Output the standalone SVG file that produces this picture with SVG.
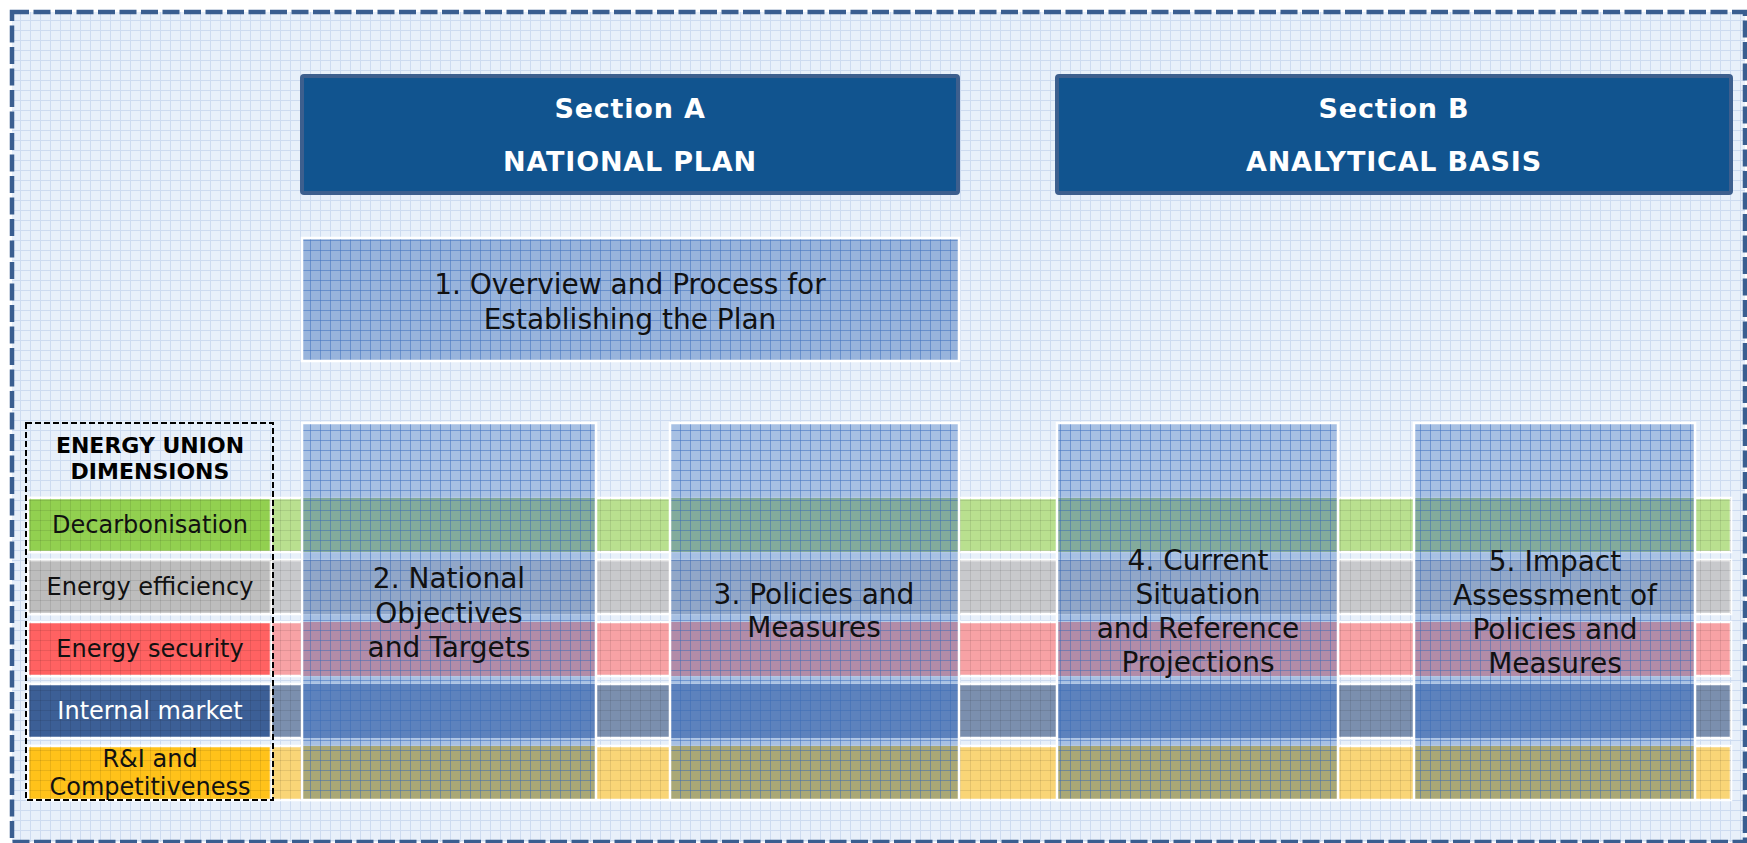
<svg xmlns="http://www.w3.org/2000/svg" width="1747" height="843" viewBox="0 0 1747 843">
<defs>
<pattern id="bgGrid" width="10" height="10" patternUnits="userSpaceOnUse">
<rect width="10" height="10" fill="#e8f0fa"/>
<path d="M0 0.5H10M0.5 0V10" stroke="#cddbf0" stroke-width="1" fill="none"/>
</pattern>
<pattern id="darkGrid" width="10" height="10" patternUnits="userSpaceOnUse">
<path d="M0 0.5H10M0.5 0V10" stroke="#000" stroke-opacity="0.09" stroke-width="1" fill="none"/>
</pattern>
<pattern id="blueGrid" width="10" height="10" patternUnits="userSpaceOnUse">
<path d="M0 0.5H10M0.5 0V10" stroke="#3c70c0" stroke-opacity="0.45" stroke-width="1" fill="none"/>
</pattern>
<clipPath id="colsClip">
<rect x="302" y="423" width="294" height="377"/>
<rect x="670" y="423" width="289" height="377"/>
<rect x="1057" y="423" width="281" height="377"/>
<rect x="1414" y="423" width="281" height="377"/>
</clipPath>
</defs>
<style>
text { font-family: "DejaVu Sans", Verdana, sans-serif; }
.hdr { font-weight: bold; font-size: 27px; fill: #ffffff; letter-spacing: 0.8px; text-anchor: middle; }
.ct { font-size: 28px; fill: #111111; text-anchor: middle; }
.lbl { font-size: 24px; fill: #111111; text-anchor: middle; }
.sec { fill: #11548f; stroke: #3d5f8e; stroke-width: 4; }
.colbox { fill: #6690cb; fill-opacity: 0.5; }
.colgrid { fill: url(#blueGrid); stroke: #ffffff; stroke-width: 2.5; }
.rowbar { stroke: #ffffff; stroke-width: 2.5; }
.grid { fill: url(#darkGrid); }
</style>

<rect x="0" y="0" width="1747" height="843" fill="#ffffff"/>
<rect x="12" y="12" width="1733" height="830" fill="url(#bgGrid)"/>
<rect x="12" y="12" width="1733" height="830" fill="none" stroke="#3a5e90" stroke-width="4.5" stroke-dasharray="17 4.5"/>

<g id="sectionA">
<rect class="sec" x="302" y="76" width="656" height="117" rx="2"/>
<text class="hdr" x="630" y="118">Section A</text>
<text class="hdr" x="630" y="171">NATIONAL PLAN</text>
</g>
<g id="sectionB">
<rect class="sec" x="1057" y="76" width="674" height="117" rx="2"/>
<text class="hdr" x="1394" y="118">Section B</text>
<text class="hdr" x="1394" y="171">ANALYTICAL BASIS</text>
</g>

<g id="box1">
<rect x="302" y="238" width="657" height="123" fill="#5a86c5" fill-opacity="0.56"/>
<rect x="302" y="238" width="657" height="123" class="colgrid"/>
<text class="ct" x="630" y="294">1. Overview and Process for</text>
<text class="ct" x="630" y="329">Establishing the Plan</text>
</g>

<g id="rows">
<rect class="rowbar" x="28" y="498" width="1703" height="54" fill="#b9e08f"/>
<rect class="rowbar" x="28" y="560" width="1703" height="54" fill="#c8c9cc"/>
<rect class="rowbar" x="28" y="622" width="1703" height="54" fill="#f7a2a5"/>
<rect class="rowbar" x="28" y="684" width="1703" height="54" fill="#7b8fae"/>
<rect class="rowbar" x="28" y="746" width="1703" height="54" fill="#f9d577"/>
<g clip-path="url(#colsClip)">
<rect x="28" y="498" width="1703" height="54" fill="#a1c76c"/>
<rect x="28" y="560" width="1703" height="54" fill="#bdbfc4"/>
<rect x="28" y="622" width="1703" height="54" fill="#ff8984"/>
<rect x="28" y="684" width="1703" height="54" fill="#5575ae"/>
<rect x="28" y="746" width="1703" height="54" fill="#eec021"/>
</g>
</g>

<g id="dimensions">
<rect class="rowbar" x="28" y="498" width="243" height="54" fill="#92d050"/>
<rect class="rowbar" x="28" y="560" width="243" height="54" fill="#bdbdbd"/>
<rect class="rowbar" x="28" y="622" width="243" height="54" fill="#ff6262"/>
<rect class="rowbar" x="28" y="684" width="243" height="54" fill="#3c5f96"/>
<rect class="rowbar" x="28" y="746" width="243" height="54" fill="#ffc21a"/>
<rect class="grid" x="28" y="498" width="1703" height="54"/>
<rect class="grid" x="28" y="560" width="1703" height="54"/>
<rect class="grid" x="28" y="622" width="1703" height="54"/>
<rect class="grid" x="28" y="684" width="1703" height="54"/>
<rect class="grid" x="28" y="746" width="1703" height="54"/>
<text x="150" y="453" font-weight="bold" font-size="22" fill="#000" text-anchor="middle">ENERGY UNION</text>
<text x="150" y="479" font-weight="bold" font-size="22" fill="#000" text-anchor="middle">DIMENSIONS</text>
<text class="lbl" x="150" y="533">Decarbonisation</text>
<text class="lbl" x="150" y="595">Energy efficiency</text>
<text class="lbl" x="150" y="657">Energy security</text>
<text class="lbl" x="150" y="719" style="fill:#ffffff">Internal market</text>
<text class="lbl" x="150" y="767">R&amp;I and</text>
<text class="lbl" x="150" y="795">Competitiveness</text>
<rect x="26" y="423" width="247" height="377" fill="none" stroke="#000" stroke-width="2" stroke-dasharray="6 3"/>
</g>

<g id="col2">
<rect class="colbox" x="302" y="423" width="294" height="377"/>
<rect class="colgrid" x="302" y="423" width="294" height="377"/>
<text class="ct" x="449" y="588">2. National</text>
<text class="ct" x="449" y="623">Objectives</text>
<text class="ct" x="449" y="657">and Targets</text>
</g>
<g id="col3">
<rect class="colbox" x="670" y="423" width="289" height="377"/>
<rect class="colgrid" x="670" y="423" width="289" height="377"/>
<text class="ct" x="814" y="604">3. Policies and</text>
<text class="ct" x="814" y="637">Measures</text>
</g>
<g id="col4">
<rect class="colbox" x="1057" y="423" width="281" height="377"/>
<rect class="colgrid" x="1057" y="423" width="281" height="377"/>
<text class="ct" x="1198" y="570">4. Current</text>
<text class="ct" x="1198" y="604">Situation</text>
<text class="ct" x="1198" y="638">and Reference</text>
<text class="ct" x="1198" y="672">Projections</text>
</g>
<g id="col5">
<rect class="colbox" x="1414" y="423" width="281" height="377"/>
<rect class="colgrid" x="1414" y="423" width="281" height="377"/>
<text class="ct" x="1555" y="571">5. Impact</text>
<text class="ct" x="1555" y="605">Assessment of</text>
<text class="ct" x="1555" y="639">Policies and</text>
<text class="ct" x="1555" y="673">Measures</text>
</g>

<g id="connectors"/>
</svg>
